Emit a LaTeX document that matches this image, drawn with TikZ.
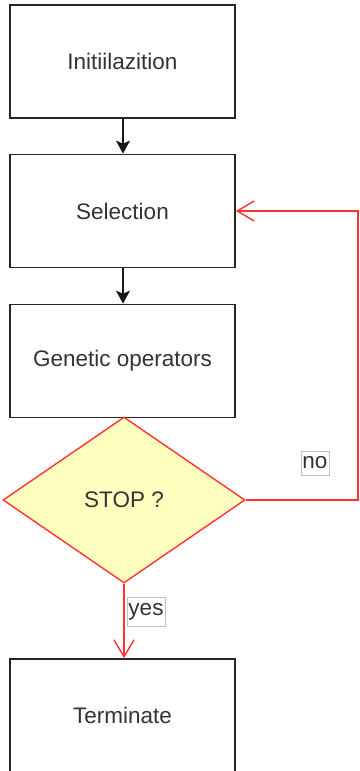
\documentclass[tikz,border=0pt]{standalone}
\usepackage{fontspec}
\setmainfont{Liberation Sans}
\usetikzlibrary{shapes.geometric,arrows.meta}
\definecolor{txt}{HTML}{333333}
\definecolor{edgered}{HTML}{FF3333}
\definecolor{decfill}{HTML}{FFFFC0}
\begin{document}
\begin{tikzpicture}[x=1pt,y=-1pt,
  stepbox/.style={draw=black!85,line width=1.7pt,fill=white,minimum width=225pt,minimum height=113pt,inner sep=0pt,font=\fontsize{22.5}{26}\selectfont,text=txt},
  decision/.style={diamond,draw=edgered,line width=1.4pt,fill=decfill,minimum width=242pt,minimum height=166pt,inner sep=0pt,font=\fontsize{22.5}{26}\selectfont,text=txt},
  flow/.style={line width=1.5pt,black!90,-{Stealth[length=13pt,width=14pt,inset=3pt]}},
  loop/.style={line width=1.4pt,edgered,-{Straight Barb[length=17pt,width=20pt,line width=1.4pt]}},
  edgelabel/.style={fill=white,draw=black!25,line width=0.6pt,inner xsep=1.5pt,inner ysep=6pt,font=\fontsize{22.5}{25}\selectfont,text=txt}]
  \fill[white] (0,0) rectangle (359,771);
  \useasboundingbox (0,0) rectangle (359,771);

  \node[stepbox] (init) at (122.5,61.5) {Initiilazition};
  \node[stepbox] (sel) at (122.5,211) {Selection};
  \node[stepbox] (gen) at (122.5,361) {Genetic operators};
  \node[decision] (stop) at (124,500) {STOP ?};
  \node[stepbox] (term) at (122.5,715.5) {Terminate};
  \coordinate (loopx) at (358,0);

  \draw[flow] (init.south -| 123,0) -- (sel.north -| 123,0);
  \draw[flow] (sel.south -| 123,0) -- (gen.north -| 123,0);
  \draw[loop] (stop.south) -- (stop.south |- term.north);
  \draw[loop] (stop.east) -- (stop.east -| loopx) |- (sel.east);

  \node[edgelabel] (no) at (315,463) {no};
  \node[edgelabel] (yes) at (146,612) {yes};
\end{tikzpicture}
\end{document}
